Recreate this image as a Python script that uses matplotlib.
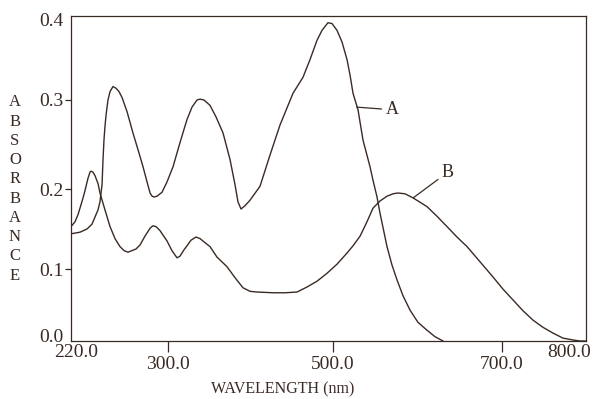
import matplotlib
matplotlib.use("Agg")
import matplotlib.pyplot as plt
import numpy as np

plt.rcParams['font.family'] = ['Liberation Serif', 'DejaVu Serif']

# curve A
wl_a = [220.0, 227.4, 233.2, 237.3, 239.8, 242.3, 243.9, 245.6, 246.4, 247.2, 248.0,
        248.9, 250.5, 252.2, 254.6, 257.1, 259.6, 262.1, 266.2, 271.1, 275.3, 279.4,
        282.7, 285.2, 286.9, 288.5, 291.0, 295.1, 299.2, 306.1, 314.5, 323.0, 329.1,
        335.2, 338.8, 343.6, 350.9, 358.2, 366.7, 375.2, 381.2, 384.8, 388.5, 393.3,
        399.4, 411.5, 423.6, 435.8, 451.5, 463.6, 472.1, 480.6, 486.7, 493.9, 498.8,
        504.7, 510.7, 516.6, 520.1, 523.7, 529.6, 535.5, 543.8, 547.3, 552.1, 555.6,
        563.9, 569.8, 575.7, 582.8, 591.1, 600.5, 611.2, 620.7, 630.2]
abs_a = [0.144, 0.146, 0.150, 0.156, 0.165, 0.174, 0.184, 0.205, 0.233, 0.255, 0.270,
         0.283, 0.300, 0.310, 0.316, 0.314, 0.310, 0.303, 0.287, 0.263, 0.244, 0.225,
         0.208, 0.195, 0.191, 0.190, 0.191, 0.196, 0.208, 0.225, 0.252, 0.278, 0.292,
         0.300, 0.301, 0.300, 0.294, 0.281, 0.263, 0.233, 0.205, 0.184, 0.175, 0.179,
         0.186, 0.203, 0.238, 0.272, 0.308, 0.327, 0.348, 0.371, 0.383, 0.392, 0.391,
         0.383, 0.369, 0.348, 0.330, 0.308, 0.289, 0.255, 0.225, 0.210, 0.190, 0.170,
         0.128, 0.105, 0.085, 0.063, 0.043, 0.026, 0.015, 0.006, 0.0]

# curve B
wl_b = [220.0, 223.3, 225.8, 228.2, 230.7, 232.4, 234.0, 235.7, 236.5, 238.1, 239.8,
        242.3, 243.9, 248.0, 252.2, 256.3, 260.4, 263.7, 267.0, 270.3, 273.6, 276.9,
        281.0, 285.2, 287.6, 290.1, 293.4, 299.2, 304.8, 310.9, 314.5, 319.4, 323.0,
        327.9, 333.9, 338.8, 344.8, 350.9, 359.3, 371.4, 381.2, 390.8, 399.4, 407.9,
        427.3, 441.8, 456.4, 468.5, 480.6, 492.7, 504.7, 516.6, 523.7, 532.0, 540.2,
        547.3, 555.6, 563.9, 571.0, 576.9, 585.2, 594.6, 611.2, 623.0, 634.9, 646.7,
        658.6, 674.0, 689.3, 701.2, 713.1, 725.0, 736.9, 748.8, 760.7, 772.6, 784.5,
        792.9, 800.0]
abs_b = [0.153, 0.159, 0.168, 0.180, 0.193, 0.203, 0.212, 0.219, 0.220, 0.219, 0.215,
         0.206, 0.195, 0.174, 0.153, 0.138, 0.128, 0.123, 0.121, 0.123, 0.125, 0.130,
         0.141, 0.151, 0.154, 0.153, 0.148, 0.135, 0.123, 0.114, 0.116, 0.124, 0.129,
         0.136, 0.140, 0.138, 0.133, 0.128, 0.115, 0.103, 0.088, 0.074, 0.069, 0.068,
         0.067, 0.067, 0.068, 0.075, 0.083, 0.094, 0.106, 0.120, 0.129, 0.141, 0.159,
         0.176, 0.185, 0.191, 0.194, 0.195, 0.194, 0.189, 0.178, 0.166, 0.153, 0.140,
         0.128, 0.109, 0.089, 0.072, 0.057, 0.042, 0.029, 0.019, 0.011, 0.004, 0.0014,
         0.0, 0.0]

x_ticks = [220, 300, 500, 700, 800]
x_pos = [0, 97, 262, 431, 515]      # uneven spacing of the hand-drawn axis
y_ticks = [0.0, 0.1, 0.2, 0.3, 0.4]
y_pos = [0, 72, 152, 241, 325]

ink = '#3a2a24'

fig = plt.figure(figsize=(5.96, 3.99), dpi=100)
ax = fig.add_axes([71/596, 1 - 341/399, 515/596, 325/399])

ax.set_xscale('function', functions=(lambda v: np.interp(v, x_ticks, x_pos),
                                     lambda v: np.interp(v, x_pos, x_ticks)))
ax.set_yscale('function', functions=(lambda v: np.interp(v, y_ticks, y_pos),
                                     lambda v: np.interp(v, y_pos, y_ticks)))

ax.plot(wl_a, abs_a, color=ink, lw=1.0, solid_joinstyle='round')
ax.plot(wl_b, abs_b, color=ink, lw=1.0, solid_joinstyle='round')

ax.set_xlim(220, 800)
ax.set_ylim(0, 0.4)

for s in ax.spines.values():
    s.set_color(ink)
    s.set_linewidth(0.9)

ax.set_xticks([300, 500, 700])
ax.set_xticklabels(['300.0', '500.0', '700.0'])
ax.tick_params(axis='x', direction='out', length=8, width=0.9, color=ink,
               labelcolor=ink, labelsize=14, pad=3)
ax.annotate('220.0', xy=(220, 0), xycoords=('data', 'axes fraction'),
            xytext=(5, -3), textcoords='offset pixels', ha='center', va='top',
            fontsize=14, color=ink)
ax.annotate('800.0', xy=(800, 0), xycoords=('data', 'axes fraction'),
            xytext=(-17, -3), textcoords='offset pixels', ha='center', va='top',
            fontsize=14, color=ink)

ax.set_yticks([0.1, 0.2, 0.3])
ax.set_yticklabels(['0.1', '0.2', '0.3'])
ax.tick_params(axis='y', direction='out', length=4, width=0.9, color=ink,
               labelcolor=ink, labelsize=14, pad=1.5)
ax.annotate('0.0', xy=(0, 0.0), xycoords=('axes fraction', 'data'),
            xytext=(-7, 4), textcoords='offset pixels', ha='right', va='center',
            fontsize=14, color=ink)
ax.annotate('0.4', xy=(0, 0.4), xycoords=('axes fraction', 'data'),
            xytext=(-7, -5), textcoords='offset pixels', ha='right', va='center',
            fontsize=14, color=ink)

ax.annotate('A', xy=(528, 0.292), xytext=(570, 0.289), fontsize=13, color=ink,
            ha='center', va='center',
            arrowprops=dict(arrowstyle='-', color=ink, lw=0.9, shrinkA=1, shrinkB=0))
ax.annotate('B', xy=(595, 0.189), xytext=(636, 0.219), fontsize=13, color=ink,
            ha='center', va='center',
            arrowprops=dict(arrowstyle='-', color=ink, lw=0.9, shrinkA=1, shrinkB=0))

fig.text(283/596, 1 - 389/399, 'WAVELENGTH (nm)', ha='center', va='center',
         fontsize=11.5, color=ink)
fig.text(15/596, 1 - 189/399, '\n'.join('ABSORBANCE'), ha='center', va='center',
         fontsize=12, color=ink, linespacing=1.27)

fig.savefig('out.png', dpi=100)
